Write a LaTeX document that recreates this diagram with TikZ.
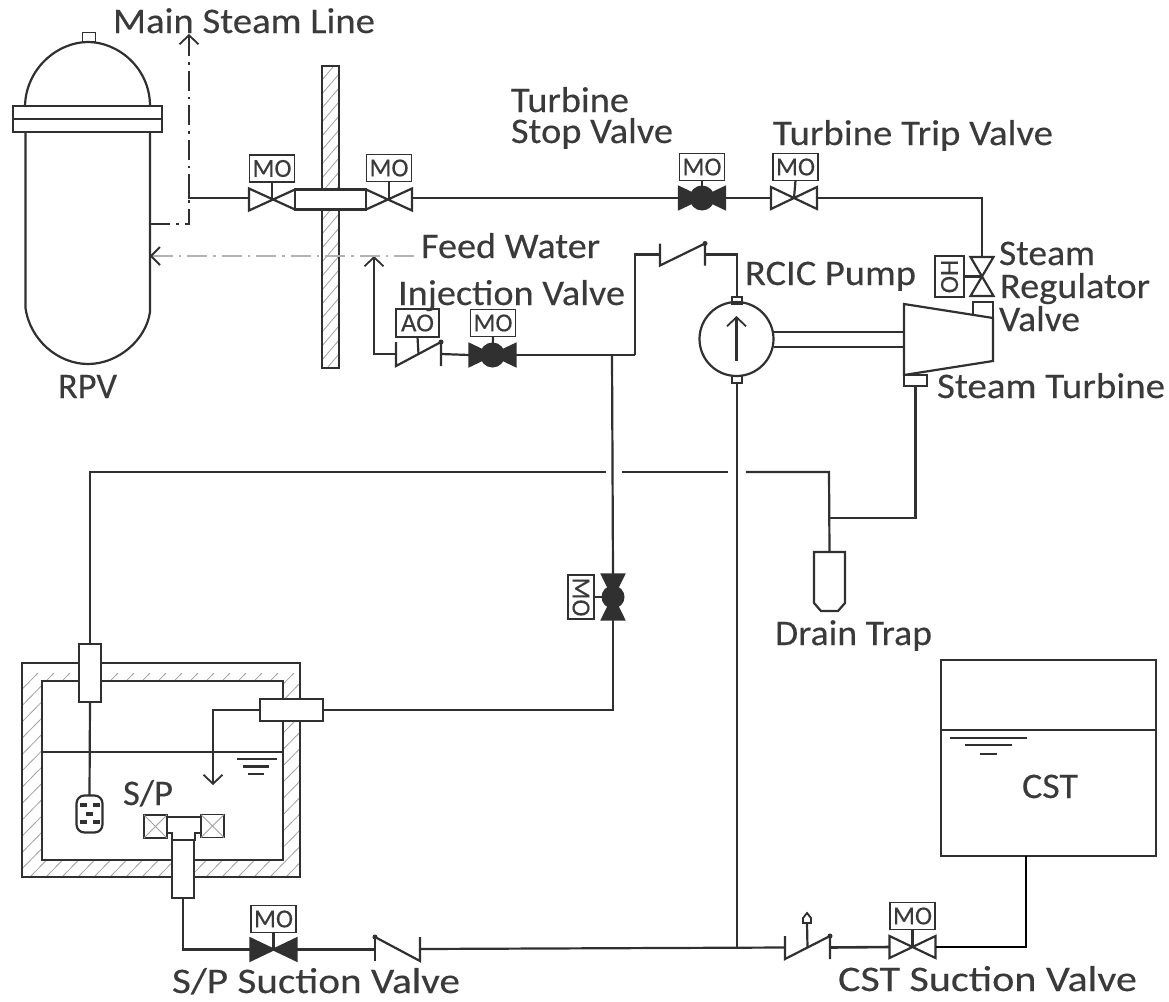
\documentclass[tikz,border=0pt]{standalone}
\usepackage{fontspec}
\usepackage{graphicx}
\setmainfont{Carlito}[RawFeature={embolden=0.25}]
\usetikzlibrary{arrows.meta,calc}
\definecolor{ink}{HTML}{303030}
\definecolor{txtc}{HTML}{3A3A3A}
\definecolor{hatchc}{HTML}{A0A0A0}
\tikzset{
  pipe/.style={draw=ink,line width=2.2pt,line join=miter},
  heavy/.style={draw=black,line width=2.6pt},
  thinl/.style={draw=ink,line width=1.8pt},
  hatch/.style={draw=hatchc,line width=0.8pt},
  barb/.style={-{Straight Barb[length=9pt,width=19pt,line width=1.8pt]}},
  dashdot/.style={dash pattern=on 20pt off 6pt on 2.5pt off 6pt},
  anchorbox/.style={rectangle,inner sep=0pt,outer sep=0pt},
  lab/.style={anchor=base west,inner sep=0pt,outer sep=0pt,text=txtc,font=\fontsize{36}{40}\selectfont},
  actbox/.style={anchorbox,draw=ink,line width=1.9pt,fill=white,text=txtc,font=\fontsize{26}{28}\selectfont},
  blackv/.style={fill=ink},
  openv/.style={fill=white}
}
% text with an exact printed width
\newcommand{\lbl}[5]{\node[lab] (#1) at (#2,#3) {\resizebox{#4pt}{\height}{#5}};}
% horizontal bowtie valve
\newcommand{\hvalve}[4]{%
  \node[anchorbox,minimum width=46pt,minimum height=22pt] (#1) at (#2,#3) {};
  \draw[pipe,#4] (#1.north west)--(#1.south west)--(#1.north east)--(#1.south east)--cycle;}
% black globe valve: bowtie and ball
\newcommand{\globe}[3]{%
  \hvalve{#1}{#2}{#3}{blackv}
  \fill[ink] (#1) circle (12.5pt);}
% actuator box, width, height, text
\newcommand{\act}[6]{\node[actbox,minimum width=#4pt,minimum height=#5pt] (#1) at (#2,#3) {#6};}
\newcommand{\mo}[3]{\act{#1}{#2}{#3}{45}{27}{\resizebox{39pt}{\height}{MO}}}
\begin{document}
\begin{tikzpicture}[x=1pt,y=-1pt]
\useasboundingbox (0,0) rectangle (1169,1001);

%% ---------- RPV
\node[anchorbox,minimum width=149pt,minimum height=26pt,draw=ink,line width=2.2pt] (flange) at (87.5,119) {};
\draw[pipe] (flange.north west)++(12,0) coordinate (domeL) .. controls (26,68) and (58,42) .. (88,42)
   coordinate (domeTop) .. controls (118,42) and (150,68) .. (150,106);
\draw[pipe] (25.5,132) -- (25.5,308) .. controls (30,340) and (58,364) .. (88,364)
   .. controls (118,364) and (146,340) .. (150,312) -- (150,132);
\draw[pipe] (flange.west) -- (flange.east);
\node[anchorbox,minimum width=13pt,minimum height=9pt,draw=ink,line width=1.8pt] (rpvNozzle) at (89,37) {};
\coordinate (rpvOut) at (150,224);
\coordinate (rpvIn) at (151,256);

%% ---------- containment wall
\node[anchorbox,minimum width=17pt,minimum height=302pt] (wall) at (330.5,217) {};
\begin{scope}
  \clip (wall.north west) rectangle (wall.south east);
  \foreach \k in {0,1,...,22}{\draw[hatch] (322,80+\k*14) -- (339,80+\k*14-20);}
\end{scope}
\draw[pipe] (wall.north west) rectangle (wall.south east);

%% ---------- main steam line
\node[anchorbox,draw=ink,line width=2.2pt,fill=white,minimum width=71pt,minimum height=20pt] (pen1) at (330.5,199.5) {};
\node[anchorbox,minimum width=46pt,minimum height=22pt] (msv1) at (272,199.5) {};
\draw[pipe] (pen1.north west) -- (msv1.south west) -- (msv1.north west) -- (pen1.south west);
\node[anchorbox,minimum width=46pt,minimum height=22pt] (msv2) at (389,199.5) {};
\draw[pipe] (pen1.north east) -- (msv2.south east) -- (msv2.north east) -- (pen1.south east);
\mo{moA}{272}{168.5}
\mo{moB}{389}{168}
\draw[pipe] (moA.south) -- (msv1.center);
\draw[pipe] (moB.south) -- (msv2.center);
\coordinate (msTee) at (189,187);
\coordinate (msTop) at (189,34);
\coordinate (msvIn) at (249,198);
\draw[pipe] (msTee) |- (msvIn);
\draw[pipe,dashdot,barb] (rpvOut) -- (189,224) -- (msTop);

\globe{tsv}{702}{198}
\mo{moC}{702}{167}
\draw[pipe] (moC.south) -- (tsv.center);
\hvalve{ttv}{794}{198}{openv}
\mo{moD}{795.5}{167}
\draw[pipe] (moD.south) -- (ttv.center);
\coordinate (msvOut) at (412,198);
\draw[pipe] (msvOut) -- (tsv.west);
\draw[pipe] (tsv.east) -- (ttv.west);

%% ---------- steam regulator valve
\node[anchorbox,minimum width=23pt,minimum height=39pt] (srv) at (982,276.5) {};
\draw[pipe,openv] (srv.north west) -- (srv.north east) -- (srv.south west) -- (srv.south east) -- cycle;
\node[actbox,minimum width=29pt,minimum height=41pt] (hoBox) at (949.5,276.5) {\rotatebox{-90}{HO}};
\draw[pipe] (hoBox.east) -- (srv.center);
\draw[thinl] (ttv.east) -| (srv.north);

%% ---------- turbine
\coordinate (tA) at (904,304);
\coordinate (tB) at (993,318);
\coordinate (tC) at (993,361);
\coordinate (tD) at (904,375);
\draw[pipe] (tA) -- (tB) -- (tC) -- (tD) -- cycle;
\node[anchorbox,minimum width=20pt,minimum height=13pt] (tIn) at (983,308.5) {};
\draw[pipe] (tIn.south west) -- (tIn.north west) -- (tIn.north east) -- (tB);
\node[anchorbox,draw=ink,line width=1.9pt,minimum width=23pt,minimum height=11pt] (tOut) at (915.5,380.5) {};

%% ---------- pump
\node[circle,draw=ink,line width=2.2pt,minimum size=74pt,inner sep=0pt,outer sep=0pt] (pump) at (736.5,339) {};
\node[anchorbox,draw=ink,line width=1.9pt,minimum width=10pt,minimum height=7pt] (pTop) at (737,300.5) {};
\node[anchorbox,draw=ink,line width=1.9pt,minimum width=10pt,minimum height=7pt] (pBot) at (737,379.5) {};
\coordinate (pArrA) at (736.5,361);
\coordinate (pArrB) at (736.5,316);
\draw[pipe,barb] (pArrA) -- (pArrB);
\draw[pipe] (774,332) -- (904,332);
\draw[pipe] (774,347) -- (904,347);

%% ---------- discharge: check valve to pump
\node[anchorbox,minimum width=45pt,minimum height=22pt] (ck1) at (682.5,254.5) {};
\draw[pipe] (ck1.north west) -- (ck1.south west) -- (ck1.north east) -- (ck1.south east);
\fill[ink] (ck1.north east) circle (2.5pt);
\coordinate (dTee) at (612,355);
\coordinate (dCorner) at (635,355);
\draw[pipe] (pTop.north) |- (ck1.east);
\draw[pipe] (ck1.west) -| (dCorner);

%% ---------- injection line
\globe{inj}{492.5}{355}
\mo{moE}{493}{323}
\draw[pipe] (moE.south) -- (inj.center);
\node[anchorbox,minimum width=45pt,minimum height=24pt] (ck2) at (418.5,354) {};
\draw[pipe] (ck2.north west) -- (ck2.south west) -- (ck2.north east) -- (ck2.south east);
\fill[ink] (ck2.north east) circle (2.5pt);
\act{aoBox}{417.5}{323}{43}{28}{\resizebox{33pt}{\height}{AO}}
\draw[pipe] (aoBox.south) -- (ck2.center);
\draw[pipe] (dCorner) -- (inj.east);
\draw[pipe] (inj.west) -- (ck2.east);
\coordinate (injTop) at (374,256);
\draw[pipe,barb] (ck2.west) -| (injTop);
\coordinate (fwEnd) at (414,256);
\draw[draw=gray!60,line width=1.6pt,dashdot] (fwEnd) -- (rpvIn);
\draw[pipe,line width=1.8pt] (160,247) -- (151,256) -- (160,265);

%% ---------- test line and its valve
\node[anchorbox,minimum width=22pt,minimum height=45pt] (tv) at (613,597) {};
\draw[pipe,blackv] (tv.north west) -- (tv.north east) -- (tv.south west) -- (tv.south east) -- cycle;
\fill[ink] (tv) circle (11.5pt);
\node[actbox,minimum width=26pt,minimum height=44pt] (moF) at (581,597) {\rotatebox{-90}{\resizebox{39pt}{\height}{MO}}};
\draw[pipe] (moF.east) -- (tv.west);
\draw[pipe] (dTee) -- (tv.north);

%% ---------- S/P
\node[anchorbox,minimum width=278pt,minimum height=214pt] (spOut) at (161,770) {};
\begin{scope}
  \clip (spOut.north west) rectangle (spOut.south east);
  \foreach \k in {0,1,...,32}{\draw[hatch] (22+\k*16-200,877) -- (22+\k*16,663+10);}
\end{scope}
\node[anchorbox,draw=ink,line width=2.2pt,fill=white,minimum width=241pt,minimum height=179pt] (spIn) at (162.5,770.5) {};
\draw[pipe] (spOut.north west) rectangle (spOut.south east);
\coordinate (levL) at (spIn.west |- 0,752);
\coordinate (levR) at (spIn.east |- 0,752);
\draw[pipe] (levL) -- (levR);
\draw[pipe] (237,759) -- (277,759);
\draw[pipe] (243,766.5) -- (269,766.5);
\draw[pipe] (248,774) -- (264,774);

\node[anchorbox,draw=ink,line width=2.2pt,fill=white,minimum width=22pt,minimum height=58pt] (spPenA) at (90,673) {};
\node[anchorbox,draw=ink,line width=2.2pt,fill=white,minimum width=63pt,minimum height=22pt] (spPenB) at (291.5,710) {};
\node[anchorbox,draw=ink,line width=2.2pt,rounded corners=8pt,minimum width=26pt,minimum height=37pt] (spStr) at (89.5,814) {};
\foreach \p in {(83,805),(96,805),(89.5,814),(83,822),(96,822)}{\fill[ink] \p ++(-3.5,-2) rectangle ++(7,4);}
\draw[pipe] (spPenA.south) -- (spStr.north);
\coordinate (spDrop) at (213,785);
\draw[pipe,barb] (spPenB.west) -| (spDrop);

%% strainers and T
\node[anchorbox,draw=ink,line width=1.9pt,minimum width=23pt,minimum height=23pt] (sL) at (155.5,826.5) {};
\node[anchorbox,draw=ink,line width=1.9pt,minimum width=23pt,minimum height=23pt] (sR) at (212.5,826) {};
\foreach \n in {sL,sR}{
  \draw[hatch] (\n.north west) -- (\n.south east);
  \draw[hatch] (\n.north east) -- (\n.south west);
}
\node[anchorbox,draw=ink,line width=2.2pt,fill=white,minimum width=22pt,minimum height=58pt] (spPipe) at (183,869) {};
\draw[pipe,fill=white] (167,833) -- (167,817) -- (201,817) -- (201,833) -- (195,833) -- (195,840) -- (172,840) -- (172,833) -- cycle;

%% ---------- suction header
\hvalve{spv}{273.5}{949.5}{blackv}
\mo{moG}{273.5}{919}
\draw[pipe] (moG.south) -- (spv.center);
\draw[pipe] (spPipe.south) |- (spv.west);
\node[anchorbox,minimum width=45pt,minimum height=24pt] (ck3) at (397.5,949) {};
\draw[pipe] (ck3.north west) -- (ck3.south west);
\draw[pipe] (ck3.north west) -- (ck3.south east) -- (ck3.north east);
\fill[ink] (ck3.north west) circle (2.5pt);
\node[anchorbox,minimum width=45pt,minimum height=23pt] (ck4) at (807.5,947.5) {};
\draw[pipe] (ck4.north west) -- (ck4.south west) -- (ck4.north east) -- (ck4.south east);
\fill[ink] (ck4.north east) circle (2.5pt);
\coordinate (ck4stem) at (807.5,947.5);
\node[anchorbox,minimum width=8pt,minimum height=10pt] (ck4cap) at (807,918) {};
\draw[pipe,line width=1.8pt] (ck4cap.south west) -- (ck4cap.west) -- (ck4cap.north) -- (ck4cap.east) -- (ck4cap.south east) -- cycle;
\draw[pipe] (ck4stem) -- (ck4cap.south);
\hvalve{cstv}{912.5}{947}{openv}
\mo{moH}{912.5}{916}
\draw[pipe] (moH.south) -- (cstv.center);
\coordinate (hdrTee) at (737,947);
\draw[pipe] (spv.east) -- (ck3.west |- spv.east);
\draw[pipe] (ck3.east) -- (ck4.west);
\draw[pipe,line width=2.6pt] (ck4.east) -- (cstv.west);
\draw[pipe] (pBot.south) -- (hdrTee);

%% ---------- CST
\node[anchorbox,draw=ink,line width=2.2pt,minimum width=215pt,minimum height=196pt] (cst) at (1048.5,758) {};
\draw[pipe] (cst.west |- 0,730) -- (cst.east |- 0,730);
\draw[pipe] (950,738) -- (1027,738);
\draw[pipe] (965,745) -- (1012,745);
\draw[pipe] (980,754) -- (997,754);
\coordinate (cstNoz) at (1026,856);
\draw[heavy] (cstNoz) |- (cstv.east);

%% ---------- turbine exhaust, drain trap, return line
\node[anchorbox,minimum width=31pt,minimum height=59pt] (trap) at (829.5,581.5) {};
\draw[pipe] (trap.south west)++(0,-8) -- (trap.north west) -- (trap.north east) -- ++(0,51) -- ++(-7,8) -- ++(-17,0) -- ++(-7,-8);
\coordinate (exTee) at (829,518);
\coordinate (retCorner) at (829,472);
\draw[pipe] (tOut.south) |- (exTee);
\draw[pipe] (trap.north) -- (retCorner) -- (746,472);
\draw[pipe] (728,472) -- (622,472);
\draw[pipe] (606,472) -- (90,472) -- (spPenA.north);
\draw[pipe] (tv.south) |- (spPenB.east);

%% ---------- labels
\lbl{tMain}{113}{33}{262}{Main Steam Line}
\lbl{tTurb}{511}{112}{118}{Turbine}
\lbl{tStop}{511}{143}{162}{Stop Valve}
\lbl{tTrip}{773}{145}{280}{Turbine Trip Valve}
\lbl{tFeed}{421}{258}{179}{Feed Water}
\lbl{tInj}{398}{305}{227}{Injection Valve}
\lbl{tRcic}{745}{285}{171}{RCIC Pump}
\lbl{tSt}{999}{265}{96}{Steam}
\lbl{tReg}{1000}{298}{150}{Regulator}
\lbl{tVal}{999}{331}{81}{Valve}
\lbl{tTb}{937}{398}{228}{Steam Turbine}
\lbl{tRpv}{58}{398}{59}{RPV}
\lbl{tDrain}{775}{645}{157}{Drain Trap}
\lbl{tSP}{123}{805}{50}{S/P}
\lbl{tSPS}{172}{993}{288}{S/P Suction Valve}
\lbl{tCSTS}{838}{991}{299}{CST Suction Valve}
\lbl{tCST}{1022}{798}{56}{CST}
\end{tikzpicture}
\end{document}
